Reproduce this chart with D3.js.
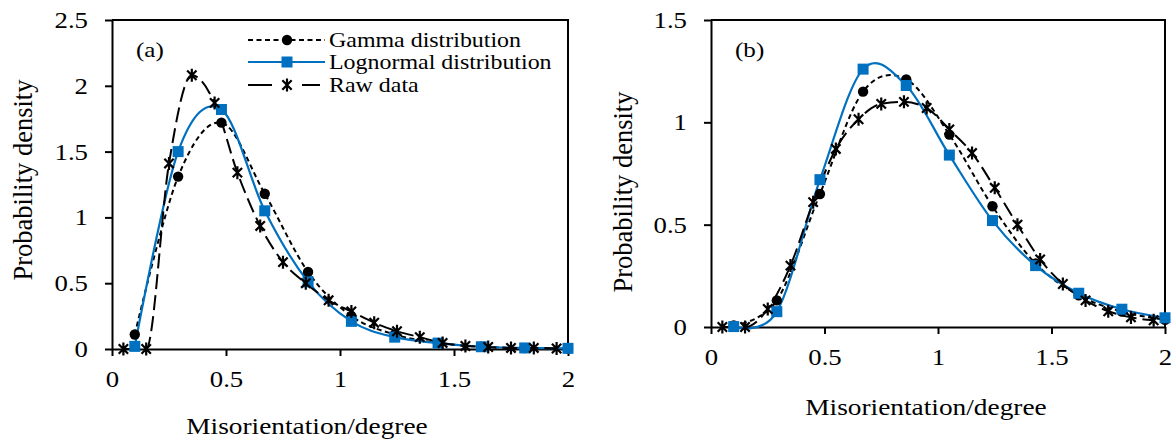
<!DOCTYPE html>
<html>
<head>
<meta charset="utf-8">
<script src="https://cdn.jsdelivr.net/npm/d3@7/dist/d3.min.js"></script>
<style>
  html, body { margin: 0; padding: 0; background: #fff; }
  svg { display: block; }
  text { font-family: "Liberation Serif", "Times New Roman", Times, serif; fill: #000; }
</style>
</head>
<body>
<svg id="chart" width="1174" height="441"></svg>
<script>
// Fitted-distribution bin centres and raw-histogram bin centres (degrees)
const fitX = [0.1, 0.29, 0.48, 0.67, 0.86, 1.05, 1.24, 1.43, 1.62, 1.81, 2.0];
const rawX = [0.05, 0.15, 0.25, 0.35, 0.45, 0.55, 0.65, 0.75, 0.85, 0.95,
              1.05, 1.15, 1.25, 1.35, 1.45, 1.55, 1.65, 1.75, 1.85, 1.95];

// Panel (a)
const gammaA     = [0.11, 1.31, 1.72, 1.18, 0.585, 0.25, 0.11, 0.045, 0.018, 0.007, 0.003];
const lognormalA = [0.02, 1.50, 1.82, 1.05, 0.51, 0.21, 0.09, 0.045, 0.017, 0.008, 0.005];
const rawA       = [0, 0, 1.41, 2.08, 1.87, 1.34, 0.935, 0.66, 0.50, 0.37,
                    0.285, 0.20, 0.135, 0.09, 0.046, 0.023, 0.015, 0.008, 0.008, 0.004];

// Panel (b)
const gammaB     = [0.008, 0.13, 0.65, 1.15, 1.21, 0.94, 0.59, 0.31, 0.155, 0.075, 0.035];
const lognormalB = [0.002, 0.075, 0.72, 1.26, 1.18, 0.84, 0.52, 0.30, 0.165, 0.087, 0.045];
const rawB       = [0, 0, 0.088, 0.30, 0.61, 0.87, 1.015, 1.09, 1.10, 1.07,
                    0.965, 0.85, 0.68, 0.50, 0.33, 0.21, 0.13, 0.077, 0.047, 0.033];

const xTicks  = [0, 0.5, 1, 1.5, 2];
const yTicksA = [0, 0.5, 1, 1.5, 2, 2.5];
const yTicksB = [0, 0.5, 1, 1.5];
const seriesNames = ["Gamma distribution", "Lognormal distribution", "Raw data"];
const xTitle = "Misorientation/degree";
const yTitle = "Probability density";

const BLUE = "#0070C0";
const SX = 1.14; // horizontal text stretch

const svg = d3.select("#chart");

function hText(parent, x, y, str, size, anchor) {
  const g = parent.append("g").attr("transform", `translate(${x},${y}) scale(${SX},1)`);
  g.append("text").attr("text-anchor", anchor || "start")
    .style("font-size", size + "px").text(str);
  return g;
}

function starPath(r) {
  const d = r * 0.72;
  return `M0,${-r}L0,${r}M${-d},${-d}L${d},${d}M${-d},${d}L${d},${-d}`;
}

const styles = {
  gamma: { stroke: "#000", dash: "5,3.5", width: 2, curve: d3.curveCardinal.tension(0) },
  logn:  { stroke: BLUE, dash: null, width: 2.2, curve: d3.curveCardinal.tension(0) },
  raw:   { stroke: "#000", dash: "15,6", width: 2, curve: d3.curveMonotoneX }
};

function drawMarkers(g, type, pts) {
  if (type === "gamma") {
    g.selectAll(null).data(pts).join("circle")
      .attr("cx", d => d[0]).attr("cy", d => d[1]).attr("r", 5.2).attr("fill", "#000");
  } else if (type === "logn") {
    g.selectAll(null).data(pts).join("rect")
      .attr("x", d => d[0] - 5.5).attr("y", d => d[1] - 5.5)
      .attr("width", 11).attr("height", 11).attr("fill", BLUE);
  } else {
    g.selectAll(null).data(pts).join("path")
      .attr("transform", d => `translate(${d[0]},${d[1]})`)
      .attr("d", starPath(6.5)).attr("stroke", "#000").attr("stroke-width", 2.2).attr("fill", "none");
  }
}

function panel(cfg) {
  const x = d3.scaleLinear().domain([0, 2]).range([cfg.x0, cfg.x1]);
  const y = d3.scaleLinear().domain([0, cfg.yMax]).range([cfg.y0, cfg.y1]);
  const g = svg.append("g");

  // axes
  const ax = g.append("g").attr("transform", `translate(0,${cfg.y0})`)
    .call(d3.axisBottom(x).tickValues(xTicks).tickFormat(d3.format("~g")).tickSize(7).tickSizeOuter(0));
  const ay = g.append("g").attr("transform", `translate(${cfg.x0},0)`)
    .call(d3.axisLeft(y).tickValues(cfg.yTicks).tickFormat(d3.format("~g")).tickSize(7).tickSizeOuter(0));
  [ax, ay].forEach(a => {
    a.attr("font-family", null);
    a.select(".domain").attr("stroke", "#000").attr("stroke-width", 2);
    a.selectAll(".tick line").attr("stroke", "#000").attr("stroke-width", 2);
    a.selectAll(".tick text").style("font-size", "23.5px").attr("fill", "#000");
  });
  ax.selectAll(".tick text").attr("dy", null).attr("y", 38).attr("transform", `scale(${SX},1)`);
  ay.selectAll(".tick text").attr("x", -24 / SX).attr("transform", `scale(${SX},1)`);

  // frame (top and right)
  g.append("path")
    .attr("d", `M${cfg.x0},${cfg.y1}H${cfg.x1}V${cfg.y0}`)
    .attr("fill", "none").attr("stroke", "#000").attr("stroke-width", 2);

  const sets = [
    ["gamma", fitX.map((v, i) => [v, cfg.gamma[i]])],
    ["logn",  fitX.map((v, i) => [v, cfg.logn[i]])],
    ["raw",   rawX.map((v, i) => [v, cfg.raw[i]])]
  ];
  sets.forEach(([type, data]) => {
    const s = styles[type];
    const line = d3.line().x(d => x(d[0])).y(d => y(d[1])).curve(s.curve);
    g.append("path").datum(data).attr("d", line)
      .attr("fill", "none").attr("stroke", s.stroke).attr("stroke-width", s.width)
      .attr("stroke-dasharray", s.dash);
  });
  sets.forEach(([type, data]) => {
    drawMarkers(g.append("g"), type, data.map(d => [x(d[0]), y(d[1])]));
  });

  // titles
  hText(g, cfg.xTitleX, cfg.xTitleY, xTitle, 24, "middle");
  g.append("text").attr("transform", `translate(${cfg.yTitleX},${cfg.yTitleY}) rotate(-90)`)
    .attr("text-anchor", "middle").style("font-size", "26.5px").text(yTitle);
  hText(g, cfg.x0 + 24, 57, cfg.tag, 22, "start");
  return { x, y, g };
}

panel({
  x0: 112, x1: 568, y0: 349, y1: 20, yMax: 2.5, yTicks: yTicksA,
  gamma: gammaA, logn: lognormalA, raw: rawA,
  xTitleX: 307, xTitleY: 434, yTitleX: 32, yTitleY: 180, tag: "(a)"
});
panel({
  x0: 711, x1: 1165, y0: 327, y1: 20, yMax: 1.5, yTicks: yTicksB,
  gamma: gammaB, logn: lognormalB, raw: rawB,
  xTitleX: 926, xTitleY: 415, yTitleX: 632, yTitleY: 192, tag: "(b)"
});

// legend (panel a)
const leg = svg.append("g");
const rows = [["gamma", 40], ["logn", 62], ["raw", 85]];
rows.forEach(([type, cy], i) => {
  const s = styles[type];
  if (type === "raw") {
    leg.append("path").attr("d", `M248,${cy}H272M302,${cy}H320`)
      .attr("stroke", s.stroke).attr("stroke-width", s.width);
  } else {
    leg.append("path").attr("d", `M248,${cy}H325`)
      .attr("stroke", s.stroke).attr("stroke-width", s.width).attr("stroke-dasharray", s.dash);
  }
  drawMarkers(leg.append("g"), type, [[287, cy]]);
  hText(leg, 329, cy + 7, seriesNames[i], 21, "start");
});
</script>
</body>
</html>
